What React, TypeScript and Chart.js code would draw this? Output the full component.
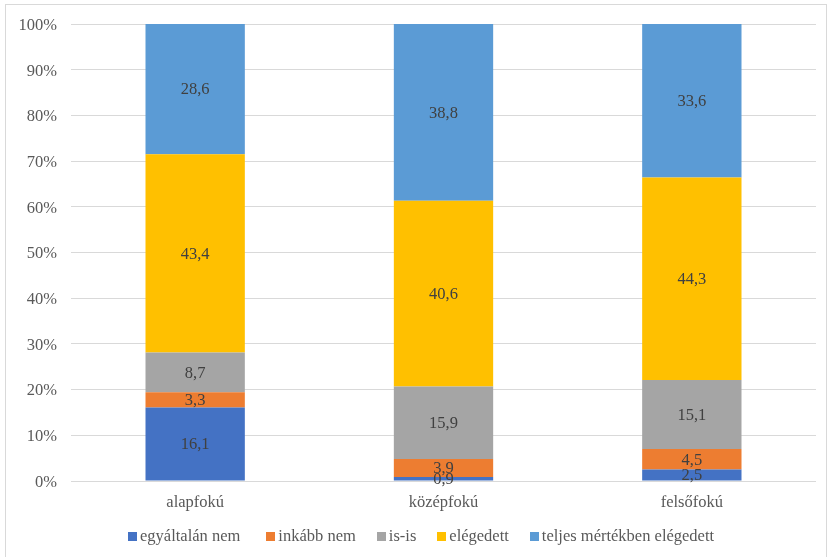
import React, { useEffect, useRef } from "react";
import { Chart, registerables } from "chart.js";

Chart.register(...registerables);

const categories = ["alapfokú", "középfokú", "felsőfokú"];
const seriesNames = ["egyáltalán nem", "inkább nem", "is-is", "elégedett", "teljes mértékben elégedett"];
const egyaltalanNem = [16.1, 0.9, 2.5];
const inkabbNem = [3.3, 3.9, 4.5];
const isIs = [8.7, 15.9, 15.1];
const elegedett = [43.4, 40.6, 44.3];
const teljesen = [28.6, 38.8, 33.6];
const seriesColors = ["#4472C4", "#ED7D31", "#A5A5A5", "#FFC000", "#5B9BD5"];
const yTicks = [0, 10, 20, 30, 40, 50, 60, 70, 80, 90, 100];

const FONT = "'Liberation Serif', 'Times New Roman', serif";

const labelPlugin = {
  id: "segLabels",
  afterDatasetsDraw(chart: any) {
    const ctx = chart.ctx;
    ctx.save();
    ctx.font = `16.5px ${FONT}`;
    ctx.fillStyle = "#404040";
    ctx.textAlign = "center";
    ctx.textBaseline = "middle";
    chart.data.datasets.forEach((ds: any, i: number) => {
      const meta = chart.getDatasetMeta(i);
      meta.data.forEach((bar: any, j: number) => {
        const v = ds.data[j];
        const props = bar.getProps(["x", "y", "base"], true);
        const cy = (props.y + props.base) / 2;
        ctx.fillText(String(v).replace(".", ","), props.x, cy + 1);
      });
    });
    ctx.restore();
  },
};

export default function App() {
  const ref = useRef<HTMLCanvasElement>(null);
  useEffect(() => {
    if (!ref.current) return;
    const allData = [egyaltalanNem, inkabbNem, isIs, elegedett, teljesen];
    const chart = new Chart(ref.current, {
      type: "bar",
      data: {
        labels: categories,
        datasets: allData.map((d, i) => ({
          label: seriesNames[i],
          data: d,
          backgroundColor: seriesColors[i],
          borderWidth: 0,
          categoryPercentage: 1,
          barPercentage: 0.4,
        })),
      },
      options: {
        animation: false,
        responsive: false,
        maintainAspectRatio: false,
        layout: { padding: { top: 24, right: 12, bottom: 36, left: 0 } },
        plugins: {
          tooltip: { enabled: false },
          legend: { display: false },
        },
        scales: {
          x: {
            stacked: true,
            grid: { display: false, drawTicks: false },
            border: { display: false },
            ticks: { color: "#595959", font: { family: FONT, size: 16.5 }, padding: 12 },
            afterFit: (s: any) => {
              s.height = 40;
            },
          },
          y: {
            stacked: true,
            min: 0,
            max: 100,
            afterBuildTicks: (s: any) => {
              s.ticks = yTicks.map((v) => ({ value: v }));
            },
            grid: { color: "#D9D9D9", drawTicks: false, lineWidth: 1 },
            border: { display: false },
            ticks: {
              color: "#595959",
              font: { family: FONT, size: 16.5 },
              padding: 14,
              labelOffset: 1.5,
              callback: (v: any) => `${v}%`,
            },
            afterFit: (s: any) => {
              s.width = 71;
            },
          },
        },
      },
      plugins: [labelPlugin],
    });
    return () => chart.destroy();
  }, []);
  return (
    <div style={{ position: "absolute", left: 0, top: 0, width: 828, height: 557, background: "#fff", overflow: "hidden" }}>
      <div style={{ position: "absolute", left: 5, top: 4, width: 820, height: 560, border: "1px solid #D9D9D9" }} />
      <canvas ref={ref} width={828} height={557} style={{ position: "absolute", left: 0, top: 0 }} />
      <div
        style={{
          position: "absolute",
          left: 128,
          top: 526,
          height: 20,
          display: "flex",
          alignItems: "center",
          gap: 21,
          fontFamily: FONT,
          fontSize: 16.5,
          color: "#595959",
          whiteSpace: "nowrap",
        }}
      >
        {seriesNames.map((n, i) => (
          <div key={n} style={{ display: "flex", alignItems: "center", marginRight: i === 0 ? 5 : 0 }}>
            <span style={{ display: "inline-block", width: 9, height: 9, background: seriesColors[i], marginRight: 3 }} />
            <span>{n}</span>
          </div>
        ))}
      </div>
    </div>
  );
}
